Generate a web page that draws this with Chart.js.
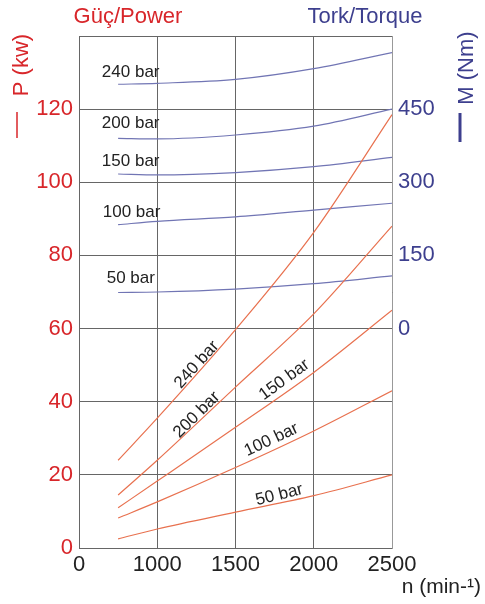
<!DOCTYPE html>
<html>
<head>
<meta charset="utf-8">
<script src="https://cdn.jsdelivr.net/npm/chart.js@4/dist/chart.umd.min.js"></script>
<style>
  html, body { margin: 0; padding: 0; background: #fff; }
  #wrap { width: 485px; height: 604px; position: relative; }
</style>
</head>
<body>
<div id="wrap"><canvas id="grafico"></canvas></div>
<script>
// rpm where the curves are read
const rpm = [750, 1000, 1500, 2000, 2500];
const pressures = ['50 bar', '100 bar', '150 bar', '200 bar', '240 bar'];

// power, kW
const p50  = [2.5, 5.2, 9.8, 14.3, 20];
const p100 = [8.2, 12.6, 22, 32, 43];
const p150 = [11, 18.3, 33, 48, 65];
const p200 = [14.5, 24, 44, 64, 88];
const p240 = [24, 35.5, 59.7, 86.3, 118.5];

// torque, Nm
const m50  = [74, 75, 81, 92, 108];
const m100 = [213, 220, 229, 243, 257];
const m150 = [317, 315, 320, 332, 351];
const m200 = [390, 389, 397, 415, 450];
const m240 = [501, 503, 511, 533, 566];

const xTicks = [500, 1000, 1500, 2000, 2500];
const xTickLabels = ['0', '1000', '1500', '2000', '2500'];
const pTicksShown = [0, 20, 40, 60, 80, 100, 120];
const mTicksShown = [0, 150, 300, 450];

const red = '#d8262a';
const redLine = '#e8714f';
const blue = '#3d3f8e';
const blueLine = '#7175b4';
const font = '"Liberation Sans", Arial, sans-serif';

const powerSeries = [p50, p100, p150, p200, p240];
const torqueSeries = [m50, m100, m150, m200, m240];

const datasets = [];
powerSeries.forEach((s, i) => {
  datasets.push({
    label: 'P ' + pressures[i],
    data: rpm.map((r, k) => ({ x: r, y: s[k] })),
    yAxisID: 'p',
    borderColor: redLine,
    borderWidth: 1.2,
    pointRadius: 0,
    cubicInterpolationMode: 'monotone'
  });
});
torqueSeries.forEach((s, i) => {
  datasets.push({
    label: 'M ' + pressures[i],
    data: rpm.map((r, k) => ({ x: r, y: s[k] })),
    yAxisID: 'm',
    borderColor: blueLine,
    borderWidth: 1.2,
    pointRadius: 0,
    cubicInterpolationMode: 'monotone'
  });
});

// label placement (data units) for the curve names
const torqueLabels = [
  { text: '240 bar', x: 646, y: 130.1 },
  { text: '200 bar', x: 646, y: 116.2 },
  { text: '150 bar', x: 646, y: 105.8 },
  { text: '100 bar', x: 652, y: 91.8 },
  { text: '50 bar',  x: 677, y: 73.7 }
];
const powerLabels = [
  { text: '240 bar', x: 1252, y: 50.1, ang: -48 },
  { text: '200 bar', x: 1252, y: 36.4, ang: -45 },
  { text: '150 bar', x: 1812, y: 46,   ang: -36 },
  { text: '100 bar', x: 1729, y: 29.6, ang: -25 },
  { text: '50 bar',  x: 1780, y: 14.5, ang: -14 }
];

const textos = {
  id: 'textos',
  afterDraw(chart) {
    const c = chart.ctx;
    const xs = chart.scales.x, ys = chart.scales.p;
    c.save();
    c.textBaseline = 'middle';

    c.fillStyle = '#222';
    c.font = '17px ' + font;
    c.textAlign = 'left';
    torqueLabels.forEach(l => {
      c.fillText(l.text, xs.getPixelForValue(l.x), ys.getPixelForValue(l.y));
    });
    c.textAlign = 'center';
    powerLabels.forEach(l => {
      c.save();
      c.translate(xs.getPixelForValue(l.x), ys.getPixelForValue(l.y));
      c.rotate(l.ang * Math.PI / 180);
      c.fillText(l.text, 0, 0);
      c.restore();
    });

    // titles
    c.font = '22px ' + font;
    c.fillStyle = red;
    c.textAlign = 'center';
    c.fillText('Güç/Power', 128, 17);
    c.fillStyle = blue;
    c.fillText('Tork/Torque', 365, 17);

    // left axis title
    c.save();
    c.translate(22, 65);
    c.rotate(-Math.PI / 2);
    c.fillStyle = red;
    c.fillText('P (kw)', 0, 0);
    c.restore();
    c.strokeStyle = red;
    c.lineWidth = 1.5;
    c.beginPath();
    c.moveTo(17, 112); c.lineTo(17, 138);
    c.stroke();

    // right axis title
    c.save();
    c.translate(467, 68);
    c.rotate(-Math.PI / 2);
    c.fillStyle = blue;
    c.fillText('M (Nm)', 0, 0);
    c.restore();
    c.strokeStyle = blue;
    c.lineWidth = 3;
    c.beginPath();
    c.moveTo(460, 113); c.lineTo(460, 142);
    c.stroke();

    // x axis title
    c.fillStyle = '#222';
    c.font = '21px ' + font;
    c.textAlign = 'right';
    c.fillText('n (min-¹)', 481, 587);
    c.restore();
  }
};

const ctx = document.getElementById('grafico').getContext('2d');
const grafico = new Chart(ctx, {
  type: 'line',
  data: { datasets: datasets },
  options: {
    responsive: true,
    maintainAspectRatio: false,
    animation: false,
    layout: { padding: { top: 36, left: 0, right: 0, bottom: 0 } },
    plugins: {
      legend: { display: false },
      tooltip: { enabled: false }
    },
    scales: {
      x: {
        type: 'linear',
        min: 500,
        max: 2500,
        afterBuildTicks: s => { s.ticks = xTicks.map(v => ({ value: v })); },
        afterFit: s => { s.height = 56; },
        grid: { color: '#666', lineWidth: 1, drawTicks: false },
        border: { color: '#666' },
        ticks: {
          color: '#222',
          padding: 4,
          font: { family: font, size: 22 },
          maxRotation: 0,
          callback: v => xTickLabels[xTicks.indexOf(v)]
        }
      },
      p: {
        type: 'linear',
        position: 'left',
        min: 0,
        max: 140,
        afterFit: s => { s.width = 79; },
        grid: { color: '#666', lineWidth: 1, drawTicks: false },
        border: { color: '#666' },
        ticks: {
          stepSize: 20,
          color: red,
          padding: 6,
          font: { family: font, size: 22 },
          callback: v => pTicksShown.includes(v) ? v : ''
        }
      },
      m: {
        type: 'linear',
        position: 'right',
        min: -450,
        max: 600,
        afterFit: s => { s.width = 93; },
        grid: { display: false, drawTicks: false },
        border: { color: '#999' },
        ticks: {
          stepSize: 150,
          color: blue,
          padding: 6,
          font: { family: font, size: 22 },
          callback: v => mTicksShown.includes(v) ? v : ''
        }
      }
    }
  },
  plugins: [textos]
});
</script>
</body>
</html>
